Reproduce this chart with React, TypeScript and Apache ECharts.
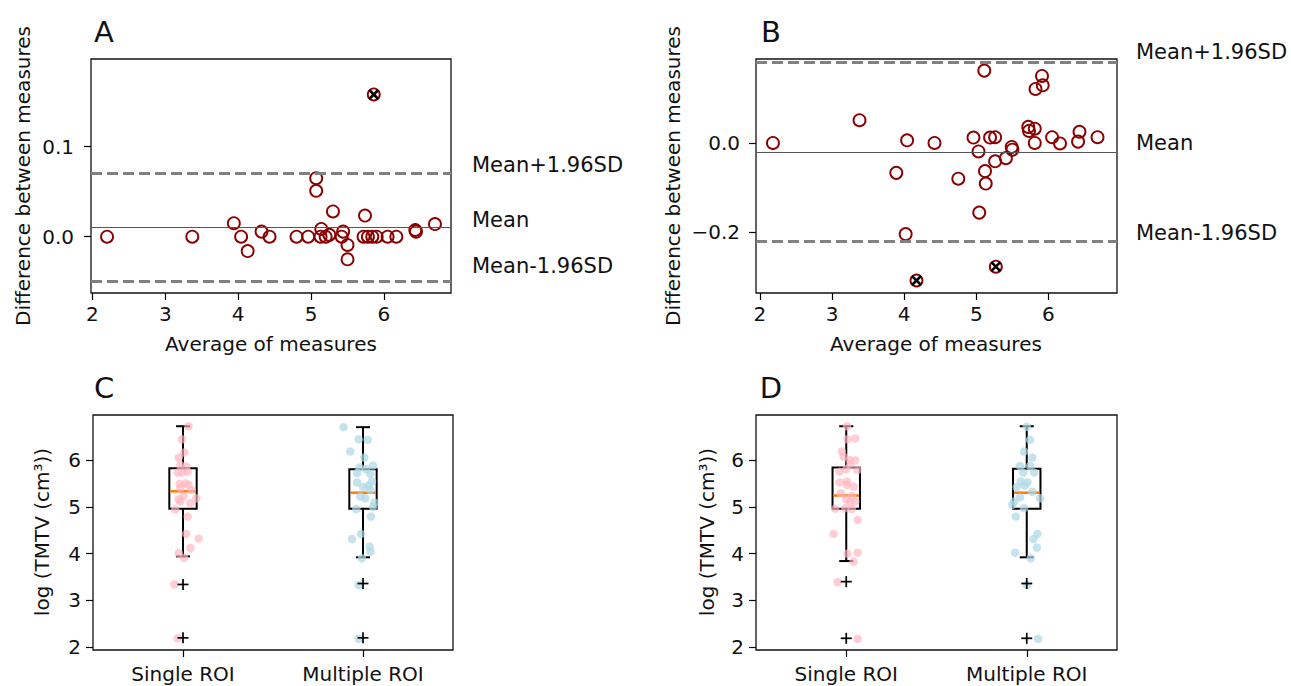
import React, { useEffect, useRef } from 'react';
import * as echarts from 'echarts';

const FONT = 'DejaVu Sans';

// ---------- Panel A (Bland-Altman) ----------
const avgA = [2.20, 3.37, 3.94, 4.04, 4.13, 4.32, 4.43, 4.80, 4.96, 5.07, 5.07, 5.14, 5.13, 5.20, 5.25, 5.30, 5.44, 5.42, 5.50, 5.50, 5.74, 5.72, 5.78, 5.84, 5.90, 5.86, 6.05, 6.17, 6.43, 6.44, 6.70];
const diffA = [0, 0, 0.015, 0, -0.016, 0.0056, 0, 0, 0, 0.065, 0.051, 0.0086, 0, 0, 0.002, 0.028, 0.0056, 0, -0.0092, -0.0252, 0.0234, 0, 0, 0, 0, 0.158, 0, 0, 0.0074, 0.0056, 0.014];
const flaggedA = [25];
const limitsA = [0.0705, 0.010, -0.0505]; // upper, mean, lower

// ---------- Panel B (Bland-Altman) ----------
const avgB = [2.18, 3.38, 3.89, 4.04, 4.02, 4.17, 4.42, 4.75, 4.96, 5.03, 5.04, 5.11, 5.12, 5.13, 5.19, 5.26, 5.26, 5.27, 5.41, 5.49, 5.50, 5.72, 5.73, 5.81, 5.81, 5.82, 5.92, 5.91, 6.05, 6.16, 6.41, 6.43, 6.68];
const diffB = [0.0, 0.051, -0.067, 0.006, -0.204, -0.308, 0.0, -0.080, 0.012, -0.019, -0.156, 0.162, -0.063, -0.091, 0.012, 0.013, -0.041, -0.277, -0.034, -0.009, -0.015, 0.036, 0.027, 0.032, 0.0, 0.121, 0.129, 0.150, 0.013, -0.001, 0.003, 0.025, 0.013];
const flaggedB = [5, 17];
const limitsB = [0.185, -0.016, -0.217];

const limitLabels = ['Mean+1.96SD', 'Mean', 'Mean-1.96SD'];

// ---------- Panels C / D (box plots) ----------
const boxCategories = ['Single ROI', 'Multiple ROI'];
// [position, lowWhisker, Q1, median, Q3, highWhisker]
const boxStatsC = [[1, 3.94, 4.96, 5.33, 5.82, 6.72], [2, 3.92, 4.96, 5.30, 5.80, 6.70]];
const boxStatsD = [[1, 3.84, 4.96, 5.24, 5.84, 6.72], [2, 3.92, 4.96, 5.30, 5.81, 6.72]];
const outliersC = [[1, 3.34], [1, 2.20], [2, 3.36], [2, 2.20]];
const outliersD = [[1, 3.40], [1, 2.19], [2, 3.36], [2, 2.19]];

const singleC_jit = [0.031, -0.006, 0.007, -0.024, -0.015, 0.018, -0.030, -0.004, 0.026, -0.019, 0.013, 0.031, -0.015, 0.046, 0.004, 0.074, -0.024, -0.015, 0.041, -0.043, 0.026, 0.018, 0.087, 0.041, -0.024, 0.007, -0.048, -0.030];
const singleC_val = [6.72, 6.44, 6.16, 6.05, 5.89, 5.86, 5.73, 5.73, 5.75, 5.49, 5.50, 5.47, 5.40, 5.36, 5.23, 5.18, 5.16, 5.11, 5.08, 4.94, 4.79, 4.42, 4.32, 4.12, 4.01, 3.91, 3.34, 2.19];
const multiC_jit = [-0.108, -0.024, 0.026, -0.071, 0.007, 0.056, -0.019, 0.018, -0.033, 0.041, 0.050, -0.033, 0.031, 0.0, 0.041, -0.015, 0.013, 0.063, 0.056, -0.037, 0.044, -0.011, -0.061, 0.037, 0.041, -0.006, -0.024, -0.024];
const multiC_val = [6.70, 6.44, 6.43, 6.18, 6.05, 5.88, 5.84, 5.80, 5.72, 5.70, 5.54, 5.52, 5.45, 5.42, 5.36, 5.22, 5.18, 5.09, 5.00, 4.95, 4.79, 4.42, 4.31, 4.15, 4.04, 3.90, 3.33, 2.18];
const singleD_jit = [0.004, 0.007, 0.050, -0.024, -0.015, 0.018, 0.050, 0.022, 0.0, 0.063, -0.037, 0.004, -0.037, 0.004, 0.041, -0.030, 0.031, 0.0, 0.022, 0.050, -0.061, -0.006, 0.031, 0.063, -0.070, 0.007, 0.063, 0.041, -0.048, 0.063];
const singleD_val = [6.72, 6.44, 6.46, 6.18, 6.07, 6.00, 5.99, 5.89, 5.80, 5.79, 5.75, 5.54, 5.52, 5.47, 5.43, 5.29, 5.23, 5.16, 5.09, 5.11, 4.96, 4.97, 4.95, 4.72, 4.42, 4.00, 4.02, 3.83, 3.39, 2.18];
const multiD_jit = [0.0, 0.018, -0.015, 0.031, -0.037, 0.018, -0.019, 0.041, -0.033, 0.004, -0.011, -0.056, 0.031, -0.037, 0.074, -0.070, -0.080, -0.015, -0.061, 0.059, 0.037, 0.056, -0.065, 0.022, 0.0, 0.063];
const multiD_val = [6.71, 6.43, 6.18, 6.05, 5.87, 5.87, 5.73, 5.73, 5.54, 5.52, 5.45, 5.42, 5.32, 5.20, 5.18, 5.11, 5.04, 4.97, 4.79, 4.42, 4.31, 4.13, 4.02, 3.90, 3.33, 2.18];

const ticksA_x = [2, 3, 4, 5, 6];
const ticksA_y = [0, 0.1];
const ticksB_y = [-0.2, 0];
const ticksBox_y = [2, 3, 4, 5, 6];
const ticksBox_x = [1, 2];

// ---------- layout ----------
const grids = [
  { left: 91, top: 59, width: 360, height: 234 },
  { left: 756, top: 59, width: 361, height: 234 },
  { left: 93, top: 415, width: 360, height: 235 },
  { left: 756, top: 415, width: 361, height: 235 },
];
const xRanges = [[1.98, 6.92], [1.945, 6.95], [0.5, 2.5], [0.5, 2.5]];
const yRanges = [[-0.0626, 0.1974], [-0.336, 0.188], [1.94, 6.96], [1.94, 6.96]];

const BOX_HALF = 0.076;
const CAP_HALF = 0.039;

function zip(a: number[], b: number[]) {
  return a.map((v, i) => [v, b[i]]);
}

function renderBox(params: any, api: any) {
  const x = api.value(0);
  const lo = api.value(1), q1 = api.value(2), med = api.value(3), q3 = api.value(4), hi = api.value(5);
  const tl = api.coord([x - BOX_HALF, q3]);
  const br = api.coord([x + BOX_HALF, q1]);
  const c = (v: number) => api.coord([x, v]);
  const capL = api.coord([x - CAP_HALF, lo])[0];
  const capR = api.coord([x + CAP_HALF, lo])[0];
  const st = { stroke: '#000', lineWidth: 2, fill: 'none' };
  const pHi = c(hi), pLo = c(lo), pQ3 = c(q3), pQ1 = c(q1), pMed = c(med);
  return {
    type: 'group',
    children: [
      { type: 'line', shape: { x1: pQ3[0], y1: pQ3[1], x2: pHi[0], y2: pHi[1] }, style: st },
      { type: 'line', shape: { x1: pQ1[0], y1: pQ1[1], x2: pLo[0], y2: pLo[1] }, style: st },
      { type: 'line', shape: { x1: capL, y1: pHi[1], x2: capR, y2: pHi[1] }, style: st },
      { type: 'line', shape: { x1: capL, y1: pLo[1], x2: capR, y2: pLo[1] }, style: st },
      { type: 'rect', shape: { x: tl[0], y: tl[1], width: br[0] - tl[0], height: br[1] - tl[1] }, style: st },
      { type: 'line', shape: { x1: tl[0] + 1, y1: pMed[1], x2: br[0] - 1, y2: pMed[1] }, style: { stroke: '#ff7f0e', lineWidth: 2.6, fill: 'none' } },
    ],
  };
}

function renderPlus(params: any, api: any) {
  const p = api.coord([api.value(0), api.value(1)]);
  const s = 5.5;
  const st = { stroke: '#000', lineWidth: 1.7 };
  return {
    type: 'group',
    children: [
      { type: 'line', shape: { x1: p[0] - s, y1: p[1], x2: p[0] + s, y2: p[1] }, style: st },
      { type: 'line', shape: { x1: p[0], y1: p[1] - s, x2: p[0], y2: p[1] + s }, style: st },
    ],
  };
}

function renderCross(params: any, api: any) {
  const p = api.coord([api.value(0), api.value(1)]);
  const s = 4.5;
  const st = { stroke: '#000', lineWidth: 2.6 };
  return {
    type: 'group',
    children: [
      { type: 'line', shape: { x1: p[0] - s, y1: p[1] - s, x2: p[0] + s, y2: p[1] + s }, style: st },
      { type: 'line', shape: { x1: p[0] - s, y1: p[1] + s, x2: p[0] + s, y2: p[1] - s }, style: st },
    ],
  };
}

const fmt1 = (v: number) => (v < -1e-9 ? '\u2212' + (-v).toFixed(1) : Math.abs(v).toFixed(1));
const fmtInt = (v: number) => String(Math.round(v));
const fmtCat = (v: number) => boxCategories[Math.round(v) - 1] || '';

function axis(gridIndex: number, range: number[], ticks: number[], formatter: any, margin: number) {
  return {
    type: 'value',
    gridIndex,
    min: range[0],
    max: range[1],
    axisLine: { show: false, onZero: false },
    splitLine: { show: false },
    axisTick: { show: true, inside: false, length: 7, customValues: ticks, lineStyle: { color: '#000', width: 1.2 } },
    axisLabel: { show: true, customValues: ticks, formatter, margin, fontSize: 20, fontFamily: FONT, color: '#111' },
  };
}

function blandSeries(idx: number, avg: number[], diff: number[], flagged: number[], limits: number[]) {
  return [
    {
      type: 'scatter',
      xAxisIndex: idx,
      yAxisIndex: idx,
      data: zip(avg, diff),
      symbol: 'circle',
      symbolSize: 12,
      itemStyle: { color: 'rgba(0,0,0,0)', borderColor: '#8b0000', borderWidth: 1.9, opacity: 1 },
      z: 3,
      markLine: {
        silent: true,
        symbol: 'none',
        label: { show: false },
        data: [
          { yAxis: limits[0], lineStyle: { color: '#808080', width: 3, type: [11, 5] } },
          { yAxis: limits[1], lineStyle: { color: '#555', width: 1, type: 'solid' } },
          { yAxis: limits[2], lineStyle: { color: '#808080', width: 3, type: [11, 5] } },
        ],
      },
    },
    {
      type: 'custom',
      xAxisIndex: idx,
      yAxisIndex: idx,
      renderItem: renderCross,
      encode: { x: 0, y: 1 },
      data: flagged.map((i) => [avg[i], diff[i]]),
      z: 4,
    },
  ];
}

function boxSeries(idx: number, stats: number[][], outliers: number[][], sj: number[], sv: number[], mj: number[], mv: number[]) {
  return [
    {
      type: 'custom',
      xAxisIndex: idx,
      yAxisIndex: idx,
      renderItem: renderBox,
      encode: { x: 0, y: [1, 2, 3, 4, 5] },
      data: stats,
      z: 2,
    },
    {
      type: 'scatter',
      xAxisIndex: idx,
      yAxisIndex: idx,
      data: sj.map((j, i) => [1 + j, sv[i]]),
      symbolSize: 8.5,
      itemStyle: { color: 'rgba(255,182,193,0.85)' },
      z: 3,
    },
    {
      type: 'scatter',
      xAxisIndex: idx,
      yAxisIndex: idx,
      data: mj.map((j, i) => [2 + j, mv[i]]),
      symbolSize: 8.5,
      itemStyle: { color: 'rgba(173,216,230,0.9)' },
      z: 3,
    },
    {
      type: 'custom',
      xAxisIndex: idx,
      yAxisIndex: idx,
      renderItem: renderPlus,
      encode: { x: 0, y: 1 },
      data: outliers,
      z: 4,
    },
  ];
}

function txt(text: string, x: number, y: number, fontSize: number, align: string, rotation = 0) {
  return {
    type: 'text',
    x,
    y,
    rotation,
    silent: true,
    style: {
      text,
      fontSize,
      fontFamily: FONT,
      fill: '#111',
      textAlign: align,
      align,
      textVerticalAlign: 'middle',
      verticalAlign: 'middle',
    },
  };
}

export default function App() {
  const ref = useRef<HTMLDivElement>(null);

  useEffect(() => {
    if (!ref.current) return;
    const chart = echarts.init(ref.current, null, { renderer: 'svg' });
    const option: any = {
      animation: false,
      backgroundColor: '#fff',
      grid: grids.map((g) => ({ ...g, show: true, borderColor: '#111', borderWidth: 1.3, backgroundColor: 'transparent', containLabel: false, outerBoundsMode: 'none' })),
      xAxis: [
        axis(0, xRanges[0], ticksA_x, fmtInt, 11),
        axis(1, xRanges[1], ticksA_x, fmtInt, 11),
        axis(2, xRanges[2], ticksBox_x, fmtCat, 14),
        axis(3, xRanges[3], ticksBox_x, fmtCat, 14),
      ],
      yAxis: [
        axis(0, yRanges[0], ticksA_y, fmt1, 17),
        axis(1, yRanges[1], ticksB_y, fmt1, 16),
        axis(2, yRanges[2], ticksBox_y, fmtInt, 12),
        axis(3, yRanges[3], ticksBox_y, fmtInt, 12),
      ],
      series: [
        ...blandSeries(0, avgA, diffA, flaggedA, limitsA),
        ...blandSeries(1, avgB, diffB, flaggedB, limitsB),
        ...boxSeries(2, boxStatsC, outliersC, singleC_jit, singleC_val, multiC_jit, multiC_val),
        ...boxSeries(3, boxStatsD, outliersD, singleD_jit, singleD_val, multiD_jit, multiD_val),
      ],
    };
    chart.setOption(option);

    const graphics: any[] = [
      txt('A', 104, 32, 29, 'center'),
      txt('B', 771, 32, 29, 'center'),
      txt('C', 104, 388, 29, 'center'),
      txt('D', 771, 388, 29, 'center'),
      txt('Difference between measures', 23, 176, 20, 'center', Math.PI / 2),
      txt('Difference between measures', 673, 176, 20, 'center', Math.PI / 2),
      txt('log (TMTV (cm\u00B3))', 42, 532, 20, 'center', Math.PI / 2),
      txt('log (TMTV (cm\u00B3))', 707, 532, 20, 'center', Math.PI / 2),
      txt('Average of measures', 271, 344, 20, 'center'),
      txt('Average of measures', 936, 344, 20, 'center'),
    ];
    const offsA = [-8, -8, -16];
    const offsB = [-8, -7, -7];
    limitsA.forEach((v, i) => {
      const p = chart.convertToPixel({ gridIndex: 0 } as any, [xRanges[0][1], v]) as number[];
      graphics.push(txt(limitLabels[i], grids[0].left + grids[0].width + 21, p[1] + offsA[i], 21, 'left'));
    });
    limitsB.forEach((v, i) => {
      const p = chart.convertToPixel({ gridIndex: 1 } as any, [xRanges[1][1], v]) as number[];
      graphics.push(txt(limitLabels[i], grids[1].left + grids[1].width + 19, p[1] + offsB[i], 21, 'left'));
    });
    chart.setOption({ graphic: graphics });

    return () => chart.dispose();
  }, []);

  return <div ref={ref} style={{ position: 'fixed', left: 0, top: 0, width: 1291, height: 686, background: '#fff' }} />;
}
